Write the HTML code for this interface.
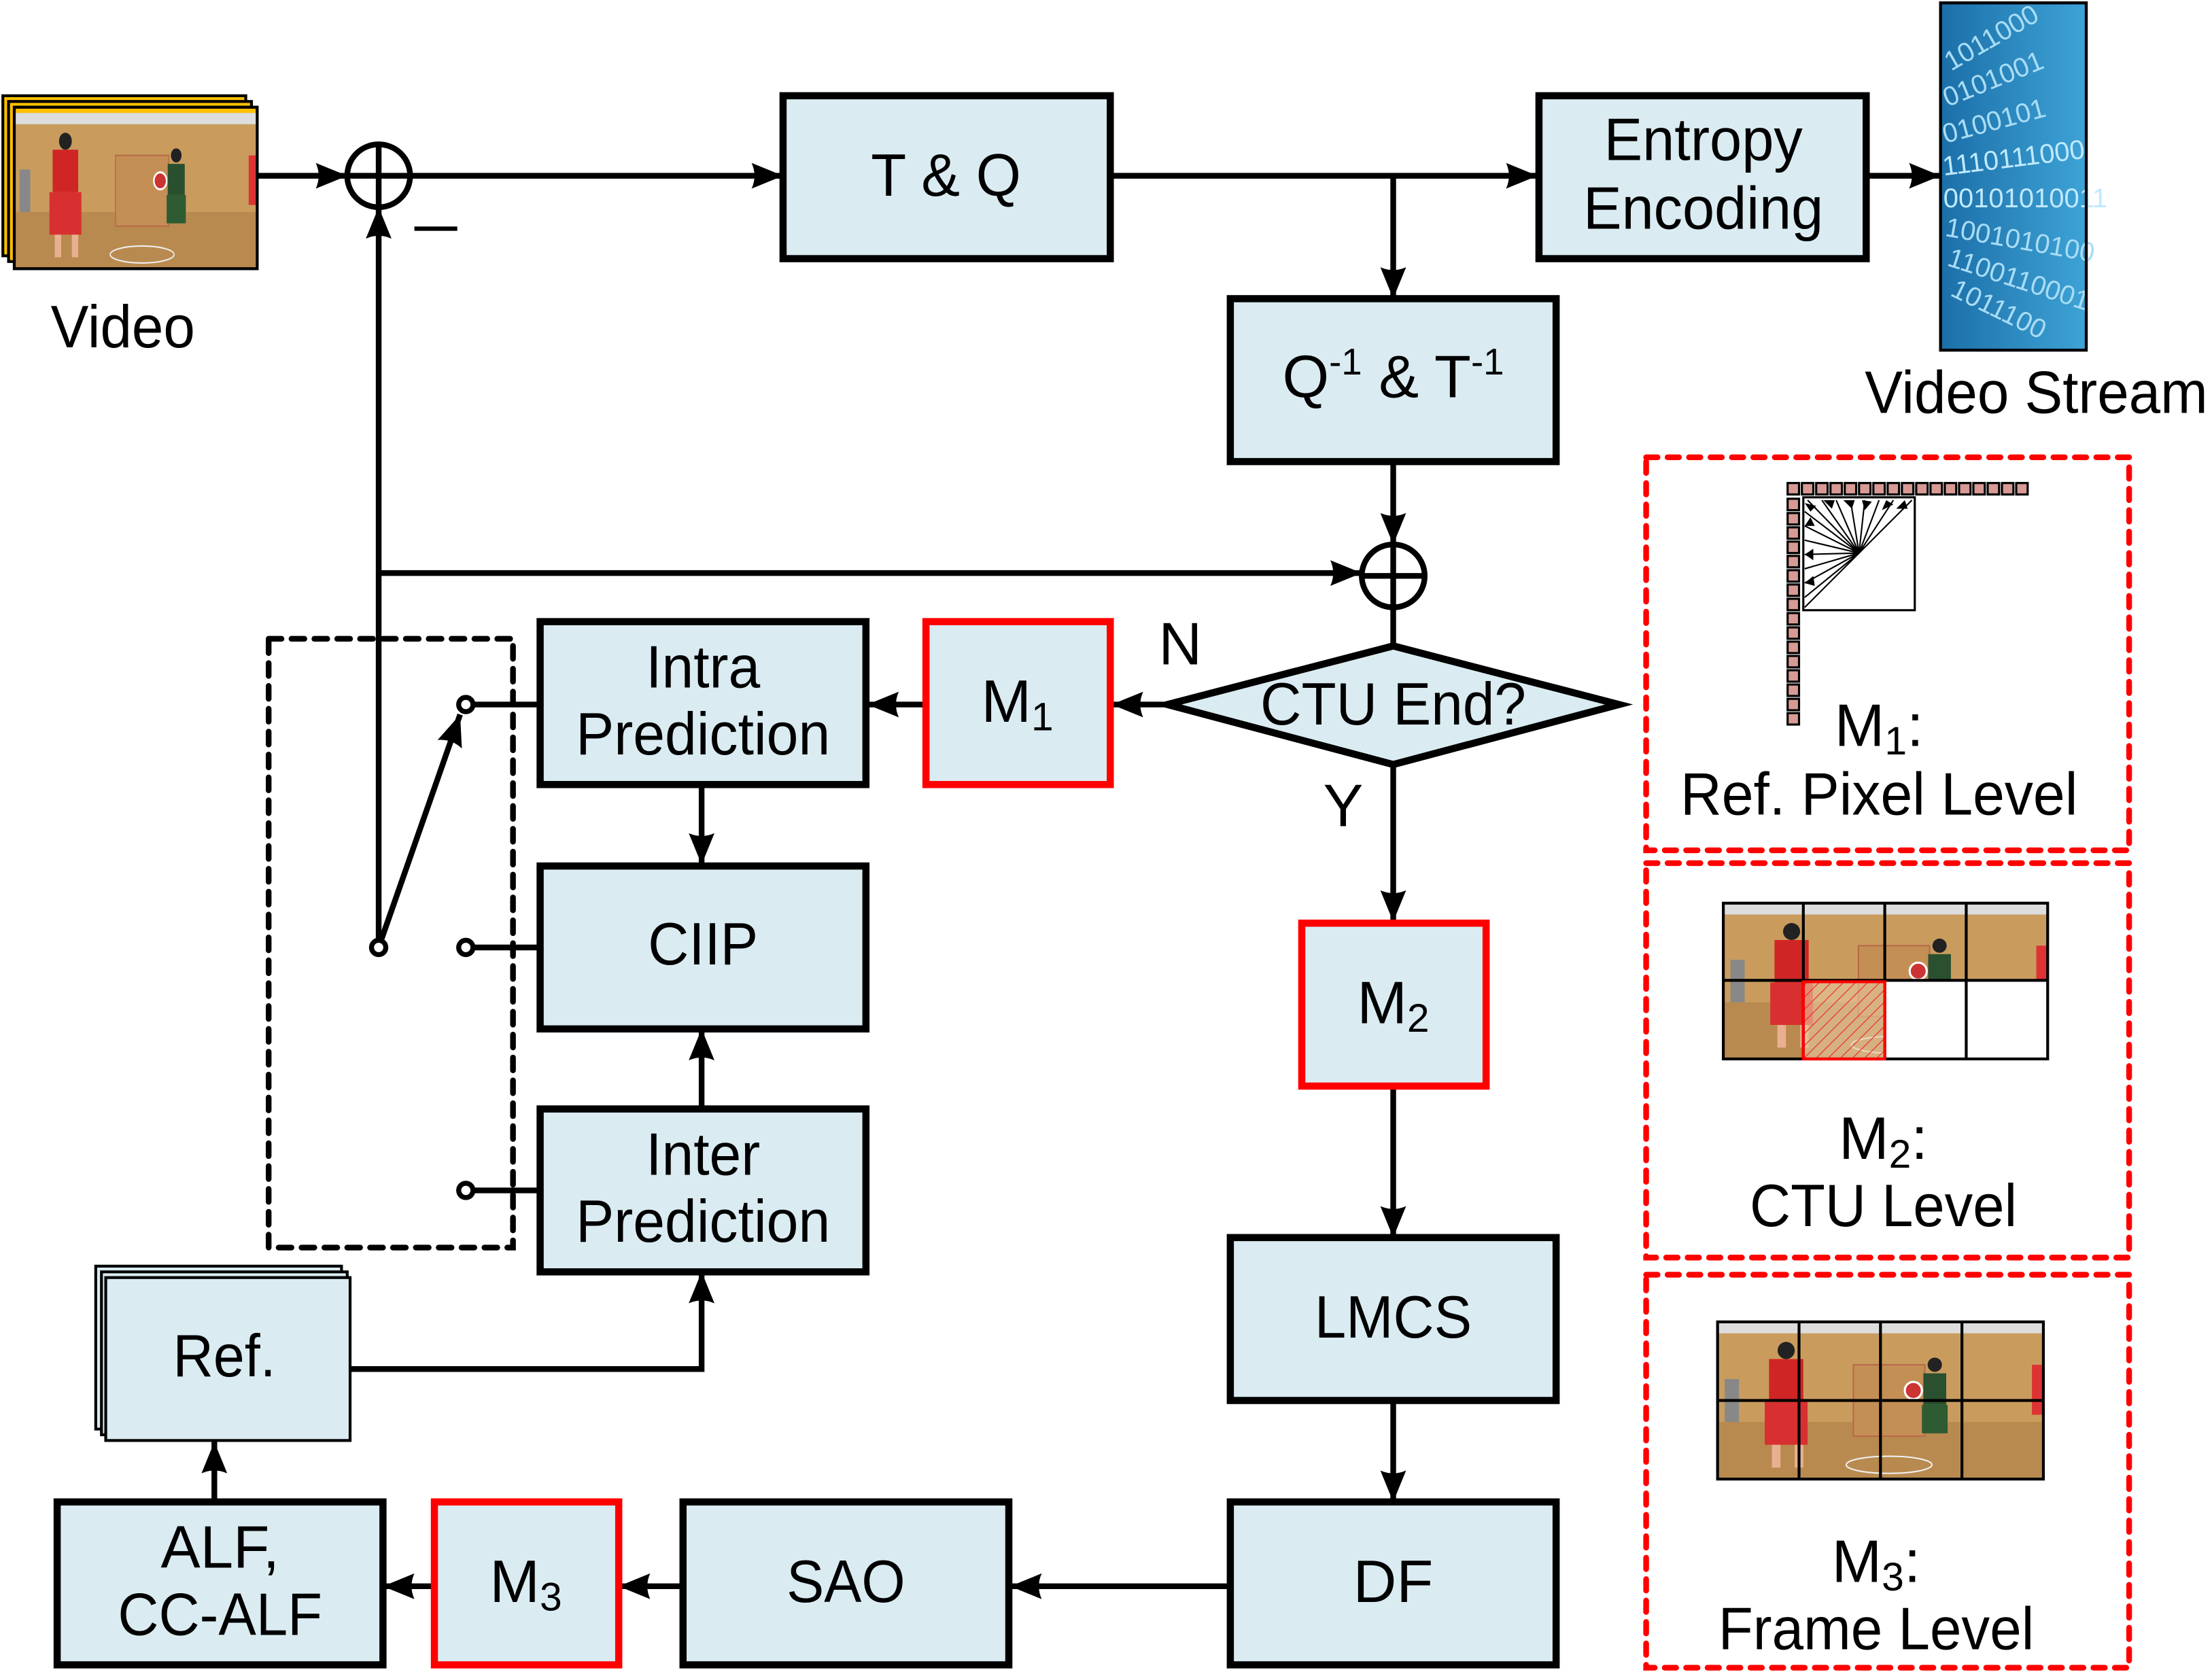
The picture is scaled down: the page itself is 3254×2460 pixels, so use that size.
<!DOCTYPE html>
<html><head><meta charset="utf-8"><style>
html,body{margin:0;padding:0;background:#fff;}
svg{display:block;}
text{font-family:"Liberation Sans",sans-serif;fill:#000;}
</style></head><body>
<svg width="3254" height="2460" viewBox="0 0 1548 1170" preserveAspectRatio="none" xmlns="http://www.w3.org/2000/svg">
<defs>
<marker id="a" markerUnits="userSpaceOnUse" markerWidth="24" markerHeight="20" refX="22" refY="10" orient="auto">
<path d="M0,1 L22,10 L0,19 Q4,10 0,1 Z" fill="#000"/></marker>
<pattern id="hatch" width="6" height="6" patternUnits="userSpaceOnUse" patternTransform="rotate(45)">
<rect width="6" height="6" fill="#e8c9a0" opacity="0.6"/><line x1="0" y1="0" x2="0" y2="6" stroke="#e33" stroke-width="1.2"/></pattern>
<g id="photo">
<rect x="0" y="0" width="228" height="110" fill="#c99c5e"/>
<rect x="0" y="0" width="228" height="8" fill="#ddd"/>
<rect x="0" y="70" width="228" height="40" fill="#b98a4f"/>
<rect x="95" y="30" width="50" height="50" fill="#c48f55" stroke="#b76a4a" stroke-width="1"/>
<ellipse cx="120" cy="100" rx="30" ry="6" fill="none" stroke="#eee" stroke-width="1"/>
<rect x="5" y="40" width="10" height="30" fill="#888"/>
<circle cx="48" cy="20" r="6" fill="#222"/>
<rect x="36" y="26" width="24" height="30" fill="#d02525"/>
<rect x="33" y="56" width="30" height="30" fill="#d83030"/>
<rect x="38" y="86" width="6" height="16" fill="#e8b090"/><rect x="54" y="86" width="6" height="16" fill="#e8b090"/>
<circle cx="152" cy="30" r="5" fill="#222"/>
<rect x="144" y="36" width="16" height="22" fill="#2a5030"/>
<rect x="143" y="58" width="18" height="20" fill="#2e5b32"/>
<circle cx="137" cy="48" r="6" fill="#c33" stroke="#fff" stroke-width="1.5"/>
<rect x="220" y="30" width="8" height="35" fill="#d33"/>
</g>
</defs>

<g stroke="#000" stroke-width="4" fill="none">
<!-- main lines -->
<line x1="180" y1="123" x2="243" y2="123" marker-end="url(#a)"/>
<line x1="287" y1="123" x2="548" y2="123" marker-end="url(#a)"/>
<line x1="777" y1="123" x2="1076" y2="123" marker-end="url(#a)"/>
<line x1="975" y1="123" x2="975" y2="209" marker-end="url(#a)"/>
<line x1="1306" y1="123" x2="1358" y2="123" marker-end="url(#a)"/>
<line x1="975" y1="323" x2="975" y2="381" marker-end="url(#a)"/>
<line x1="265" y1="401" x2="953" y2="401" marker-end="url(#a)"/>
<line x1="265" y1="658" x2="265" y2="145" marker-end="url(#a)"/>
<line x1="975" y1="425" x2="975" y2="452"/>
<line x1="817" y1="493" x2="778" y2="493" marker-end="url(#a)"/>
<line x1="647" y1="493" x2="607" y2="493" marker-end="url(#a)"/>
<line x1="491" y1="550" x2="491" y2="605" marker-end="url(#a)"/>
<line x1="491" y1="775" x2="491" y2="720" marker-end="url(#a)"/>
<line x1="975" y1="535" x2="975" y2="645" marker-end="url(#a)"/>
<line x1="975" y1="761" x2="975" y2="866" marker-end="url(#a)"/>
<line x1="975" y1="980" x2="975" y2="1051" marker-end="url(#a)"/>
<line x1="860" y1="1110" x2="707" y2="1110" marker-end="url(#a)"/>
<line x1="477" y1="1110" x2="433" y2="1110" marker-end="url(#a)"/>
<line x1="303" y1="1110" x2="268" y2="1110" marker-end="url(#a)"/>
<line x1="150" y1="1050" x2="150" y2="1009" marker-end="url(#a)"/>
<polyline points="245,958 491,958 491,890" marker-end="url(#a)"/>
<line x1="266" y1="660" x2="322" y2="500" marker-end="url(#a)"/>
<line x1="330" y1="493" x2="377" y2="493"/>
<line x1="330" y1="663" x2="377" y2="663"/>
<line x1="330" y1="833" x2="377" y2="833"/>
</g>
<g stroke="#000" stroke-width="3.5" fill="#fff">
<circle cx="326" cy="493" r="5"/><circle cx="326" cy="663" r="5"/><circle cx="326" cy="833" r="5"/><circle cx="265" cy="663" r="5"/>
</g>
<!-- dotted box -->
<rect x="188" y="447" width="171" height="426" fill="none" stroke="#000" stroke-width="4" stroke-dasharray="9,7" stroke-linecap="round"/>

<!-- sum circles -->
<g stroke="#000" stroke-width="4" fill="#fff">
<circle cx="265" cy="123" r="22"/><line x1="243" y1="123" x2="287" y2="123"/><line x1="265" y1="101" x2="265" y2="145"/>
<circle cx="975" cy="403" r="22"/><line x1="953" y1="403" x2="997" y2="403"/><line x1="975" y1="381" x2="975" y2="425"/>
</g>
<line x1="290" y1="160" x2="320" y2="160" stroke="#000" stroke-width="3"/>

<!-- boxes -->
<g fill="#daecf2" stroke="#000" stroke-width="5">
<rect x="548" y="67" width="229" height="114"/>
<rect x="1077" y="67" width="229" height="114"/>
<rect x="861" y="209" width="228" height="114"/>
<rect x="378" y="435" width="228" height="114"/>
<rect x="378" y="606" width="228" height="114"/>
<rect x="378" y="776" width="228" height="114"/>
<rect x="861" y="866" width="228" height="114"/>
<rect x="861" y="1051" width="228" height="114"/>
<rect x="478" y="1051" width="228" height="114"/>
<rect x="40" y="1051" width="228" height="114"/>
<polygon points="817,493 975,452 1133,493 975,535"/>
</g>
<g fill="#daecf2" stroke="#f00" stroke-width="5">
<rect x="648" y="435" width="129" height="114"/>
<rect x="911" y="646" width="129" height="114"/>
<rect x="304" y="1051" width="129" height="114"/>
</g>
<g fill="#daecf2" stroke="#000" stroke-width="2">
<rect x="67" y="886" width="172" height="114"/>
<rect x="71" y="890" width="172" height="114"/>
<rect x="74" y="894" width="171" height="114"/>
</g>

<!-- video frames -->
<g stroke="#000" stroke-width="2">
<rect x="2" y="67" width="170" height="112" fill="#ffc000"/>
<rect x="6" y="71" width="170" height="112" fill="#ffc000"/>
<rect x="10" y="75" width="170" height="113" fill="#ffc000"/>
</g>
<svg x="10" y="79" width="170" height="109" viewBox="0 0 228 110" preserveAspectRatio="none"><use href="#photo"/></svg>
<rect x="10" y="75" width="170" height="113" fill="none" stroke="#000" stroke-width="2"/>

<!-- video stream -->
<defs><linearGradient id="bg" x1="0" y1="0" x2="1" y2="0"><stop offset="0" stop-color="#1b6fa8"/><stop offset="1" stop-color="#3ea3d6"/></linearGradient></defs>
<rect x="1358" y="2" width="102" height="243" fill="url(#bg)" stroke="#000" stroke-width="2"/>
<g font-size="19" fill="#bfe9ff" style="fill:#bfe9ff">
<text x="1360" y="30" style="fill:#a8dcf5" transform="rotate(-30 1400 30)">1011000</text>
<text x="1360" y="60" style="fill:#a8dcf5" transform="rotate(-22 1400 60)">0101001</text>
<text x="1360" y="90" style="fill:#a8dcf5" transform="rotate(-15 1400 90)">0100101</text>
<text x="1360" y="118" style="fill:#bfe9ff" transform="rotate(-7 1400 118)">1110111000</text>
<text x="1360" y="145" style="fill:#bfe9ff">00101010011</text>
<text x="1360" y="172" style="fill:#a8dcf5" transform="rotate(10 1400 172)">1001010100</text>
<text x="1360" y="198" style="fill:#a8dcf5" transform="rotate(18 1400 198)">1100110001</text>
<text x="1360" y="224" style="fill:#a8dcf5" transform="rotate(26 1400 224)">1011100</text>
</g>
<rect x="1358" y="2" width="102" height="243" fill="none" stroke="#000" stroke-width="2"/>

<!-- labels -->
<g font-size="42" text-anchor="middle">
<text x="86" y="243" textLength="101" lengthAdjust="spacingAndGlyphs">Video</text>
<text x="662" y="137" textLength="105" lengthAdjust="spacingAndGlyphs">T &amp; Q</text>
<text x="1192" y="112" textLength="139" lengthAdjust="spacingAndGlyphs">Entropy</text>
<text x="1192" y="160" textLength="168" lengthAdjust="spacingAndGlyphs">Encoding</text>
<text x="1425" y="289" textLength="240" lengthAdjust="spacingAndGlyphs">Video Stream</text>
<text x="975" y="278">Q<tspan font-size="26" dy="-16">-1</tspan><tspan dy="16"> &amp; T</tspan><tspan font-size="26" dy="-16">-1</tspan></text>
<text x="975" y="507" textLength="186" lengthAdjust="spacingAndGlyphs">CTU End?</text>
<text x="826" y="465">N</text>
<text x="940" y="578">Y</text>
<text x="492" y="481" textLength="80" lengthAdjust="spacingAndGlyphs">Intra</text>
<text x="492" y="528" textLength="178" lengthAdjust="spacingAndGlyphs">Prediction</text>
<text x="492" y="675" textLength="77" lengthAdjust="spacingAndGlyphs">CIIP</text>
<text x="492" y="822" textLength="80" lengthAdjust="spacingAndGlyphs">Inter</text>
<text x="492" y="869" textLength="178" lengthAdjust="spacingAndGlyphs">Prediction</text>
<text x="712" y="505">M<tspan font-size="28" dy="6">1</tspan></text>
<text x="975" y="716">M<tspan font-size="28" dy="6">2</tspan></text>
<text x="368" y="1121">M<tspan font-size="28" dy="6">3</tspan></text>
<text x="975" y="936" textLength="110" lengthAdjust="spacingAndGlyphs">LMCS</text>
<text x="975" y="1121">DF</text>
<text x="592" y="1121" textLength="83" lengthAdjust="spacingAndGlyphs">SAO</text>
<text x="154" y="1097" textLength="83" lengthAdjust="spacingAndGlyphs">ALF,</text>
<text x="154" y="1144" textLength="143" lengthAdjust="spacingAndGlyphs">CC-ALF</text>
<text x="157" y="963" textLength="72" lengthAdjust="spacingAndGlyphs">Ref.</text>
<text x="1315" y="522">M<tspan font-size="28" dy="6">1</tspan><tspan dy="-6">:</tspan></text>
<text x="1315" y="570" textLength="278" lengthAdjust="spacingAndGlyphs">Ref. Pixel Level</text>
<text x="1318" y="811">M<tspan font-size="28" dy="6">2</tspan><tspan dy="-6">:</tspan></text>
<text x="1318" y="858" textLength="187" lengthAdjust="spacingAndGlyphs">CTU Level</text>
<text x="1313" y="1107">M<tspan font-size="28" dy="6">3</tspan><tspan dy="-6">:</tspan></text>
<text x="1313" y="1154" textLength="221" lengthAdjust="spacingAndGlyphs">Frame Level</text>
</g>

<!-- red dashed panels -->
<g fill="none" stroke="#f00" stroke-width="4" stroke-dasharray="8,7" stroke-linecap="round">
<rect x="1152" y="320" width="338" height="275"/>
<rect x="1152" y="604" width="338" height="276"/>
<rect x="1152" y="892" width="338" height="275"/>
</g>

<!-- M1 graphic -->
<g fill="#d89a95" stroke="#000" stroke-width="1.5">
<rect x="1251" y="338" width="8" height="8"/><rect x="1261" y="338" width="8" height="8"/><rect x="1271" y="338" width="8" height="8"/><rect x="1281" y="338" width="8" height="8"/><rect x="1291" y="338" width="8" height="8"/><rect x="1301" y="338" width="8" height="8"/><rect x="1311" y="338" width="8" height="8"/><rect x="1321" y="338" width="8" height="8"/><rect x="1331" y="338" width="8" height="8"/><rect x="1341" y="338" width="8" height="8"/><rect x="1351" y="338" width="8" height="8"/><rect x="1361" y="338" width="8" height="8"/><rect x="1371" y="338" width="8" height="8"/><rect x="1381" y="338" width="8" height="8"/><rect x="1391" y="338" width="8" height="8"/><rect x="1401" y="338" width="8" height="8"/><rect x="1411" y="338" width="8" height="8"/>
<rect x="1251" y="349" width="8" height="8"/><rect x="1251" y="359" width="8" height="8"/><rect x="1251" y="369" width="8" height="8"/><rect x="1251" y="379" width="8" height="8"/><rect x="1251" y="389" width="8" height="8"/><rect x="1251" y="399" width="8" height="8"/><rect x="1251" y="409" width="8" height="8"/><rect x="1251" y="419" width="8" height="8"/><rect x="1251" y="429" width="8" height="8"/><rect x="1251" y="439" width="8" height="8"/><rect x="1251" y="449" width="8" height="8"/><rect x="1251" y="459" width="8" height="8"/><rect x="1251" y="469" width="8" height="8"/><rect x="1251" y="479" width="8" height="8"/><rect x="1251" y="489" width="8" height="8"/><rect x="1251" y="499" width="8" height="8"/>
</g>
<rect x="1262" y="348" width="78" height="79" fill="#fff" stroke="#000" stroke-width="1.5"/>
<g stroke="#000" stroke-width="1">
<line x1="1301" y1="387" x2="1263" y2="418"/><line x1="1301" y1="387" x2="1263" y2="408"/><line x1="1301" y1="387" x2="1263" y2="398"/><line x1="1301" y1="387" x2="1263" y2="388"/><line x1="1301" y1="387" x2="1263" y2="378"/><line x1="1301" y1="387" x2="1263" y2="368"/><line x1="1301" y1="387" x2="1263" y2="358"/><line x1="1301" y1="387" x2="1265" y2="350"/><line x1="1301" y1="387" x2="1275" y2="350"/><line x1="1301" y1="387" x2="1285" y2="350"/><line x1="1301" y1="387" x2="1295" y2="350"/><line x1="1301" y1="387" x2="1305" y2="350"/><line x1="1301" y1="387" x2="1315" y2="350"/><line x1="1301" y1="387" x2="1325" y2="350"/><line x1="1263" y1="425" x2="1338" y2="350"/>
</g>
<g fill="#000"><path d="M1263,352 l8,2 l-4,4z"/><path d="M1276,350 l6,6 l2,-6z"/><path d="M1290,350 l6,6 l2,-6z"/><path d="M1303,350 l2,7 l5,-6z"/><path d="M1320,350 l-3,7 l8,-4z"/><path d="M1333,350 l-6,6 l8,0z"/><path d="M1263,368 l4,-6 l3,6z"/><path d="M1263,388 l6,-4 l0,8z"/><path d="M1263,408 l6,-5 l1,7z"/></g>

<!-- M2 graphic -->
<svg x="1206" y="632" width="227" height="109" viewBox="0 0 228 110" preserveAspectRatio="none"><use href="#photo"/></svg>
<rect x="1319" y="687" width="114" height="55" fill="#fff"/>
<rect x="1262" y="687" width="57" height="54" fill="url(#hatch)"/>
<g stroke="#000" stroke-width="2" fill="none">
<rect x="1206" y="632" width="227" height="109"/>
<line x1="1262" y1="632" x2="1262" y2="741"/><line x1="1319" y1="632" x2="1319" y2="741"/><line x1="1376" y1="632" x2="1376" y2="741"/><line x1="1206" y1="686" x2="1433" y2="686"/>
</g>
<rect x="1262" y="687" width="57" height="54" fill="none" stroke="#f00" stroke-width="2"/>

<!-- M3 graphic -->
<svg x="1202" y="925" width="228" height="110" viewBox="0 0 228 110" preserveAspectRatio="none"><use href="#photo"/></svg>
<g stroke="#000" stroke-width="2" fill="none">
<rect x="1202" y="925" width="228" height="110"/>
<line x1="1259" y1="925" x2="1259" y2="1035"/><line x1="1316" y1="925" x2="1316" y2="1035"/><line x1="1373" y1="925" x2="1373" y2="1035"/><line x1="1202" y1="980" x2="1430" y2="980"/>
</g>
</svg>
</body></html>
